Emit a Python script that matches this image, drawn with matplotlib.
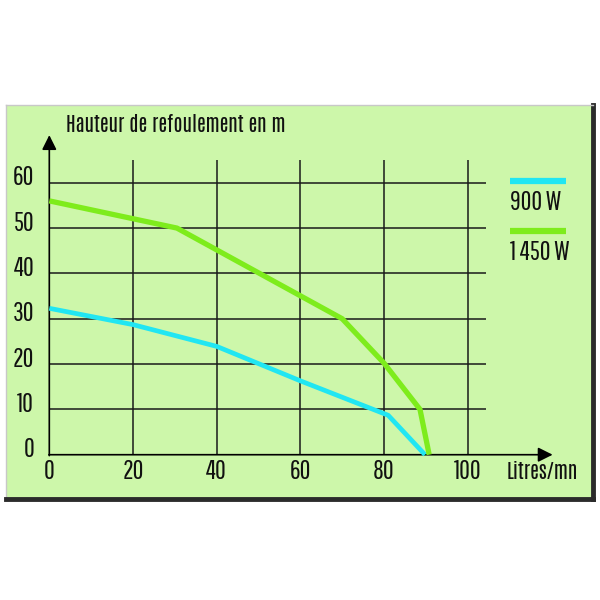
import matplotlib.pyplot as plt

# data
debit_900 = [0, 20, 40, 60, 81, 89.8]
haut_900 = [32.3, 28.7, 23.9, 16.3, 8.7, 0]
debit_1450 = [0, 30.5, 70, 80, 88.6, 90.8]
haut_1450 = [56, 50, 30, 20.2, 10, 0]
x_ticks = [0, 20, 40, 60, 80, 100]
y_ticks = [0, 10, 20, 30, 40, 50, 60]
series_names = ["900 W", "1 450 W"]

cyan = "#21e6f2"
green = "#7eec1c"
fond = "#cdf7aa"
police = ["Pathway Gothic One", "DejaVu Sans"]
police_gras = ["Antonio", "Fjalla One", "DejaVu Sans"]

fig = plt.figure(figsize=(6, 6), dpi=100)
ax = fig.add_axes([6 / 600, 101 / 600, 587 / 600, 394 / 600])
ax.set_facecolor(fond)
ax.set_xlim(-10.35, 129.95)
ax.set_ylim(-9.77, 77.15)
ax.set_xticks([])
ax.set_yticks([])

for s in ["top", "left"]:
    ax.spines[s].set_color("#c8c8c8")
    ax.spines[s].set_linewidth(1)
for s in ["right", "bottom"]:
    ax.spines[s].set_color("#2b2b2b")
    ax.spines[s].set_linewidth(3.5)

# grille
ax.vlines(x_ticks[1:], 0, 65, color="#1a1a1a", lw=1.1, zorder=1)
ax.hlines(y_ticks[1:], 0, 104.4, color="#1a1a1a", lw=1.1, zorder=1)

# axes avec fleches
ax.annotate("", xy=(0, 70.5), xytext=(0, -0.2),
            arrowprops=dict(arrowstyle="-|>", color="black", lw=1.2,
                            mutation_scale=22, shrinkA=0, shrinkB=0))
ax.annotate("", xy=(120.3, 0), xytext=(-0.1, 0),
            arrowprops=dict(arrowstyle="-|>", color="black", lw=1.2,
                            mutation_scale=22, shrinkA=0, shrinkB=0))

# courbes
ax.plot(debit_900, haut_900, color=cyan, lw=3.4, solid_capstyle="butt", zorder=3)
ax.plot(debit_1450, haut_1450, color=green, lw=3.8, solid_capstyle="butt", zorder=4)

for v in y_ticks:
    ax.text(-3.6, v + 1.1, str(v), ha="right", va="center",
            fontsize=19, family=police, color="#111111")
for v in x_ticks:
    ax.text(v, -3.6, str(v), ha="center", va="center",
            fontsize=19, family=police, color="#111111")

ax.text(4, 73.0, "Hauteur de refoulement en m", ha="left", va="center",
        fontsize=14.5, fontweight="bold", family=police_gras, color="#111111")
ax.text(109.2, -3.6, "Litres/mn", ha="left", va="center",
        fontsize=14.5, fontweight="bold", family=police_gras, color="#111111")

# legende
for i, (nom, col) in enumerate(zip(series_names, [cyan, green])):
    y0 = 60.3 - i * 11
    ax.plot([110, 123.5], [y0, y0], color=col, lw=4.5, solid_capstyle="butt")
    ax.text(110, y0 - 4.6, nom, ha="left", va="center",
            fontsize=19, family=police, color="#111111")

fig.savefig("out.png", dpi=100, facecolor="white")
